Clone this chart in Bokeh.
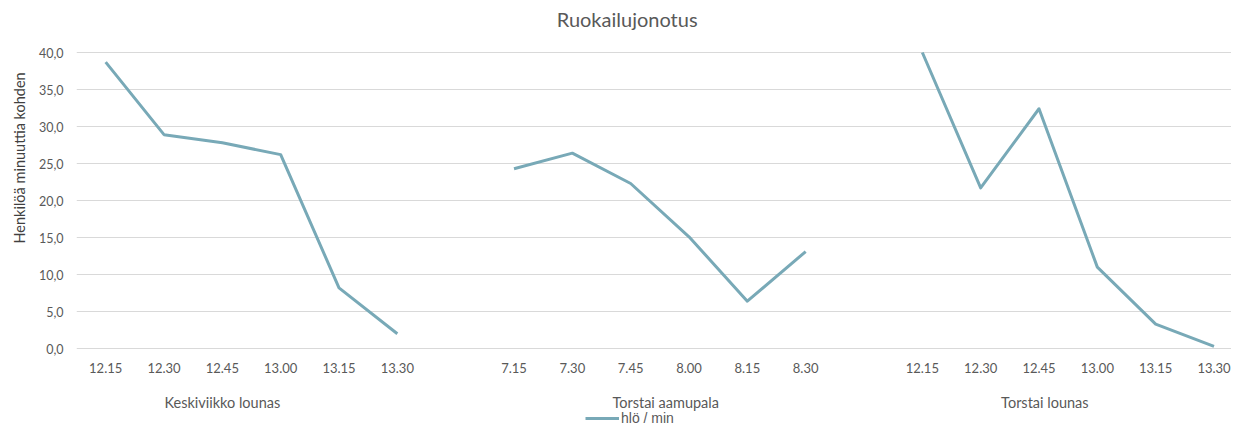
from bokeh.plotting import figure
from bokeh.models import (Range1d, FixedTicker, CustomJSTickFormatter,
                          Title, Legend, LegendItem, ColumnDataSource)
from bokeh.core.properties import value
from bokeh.embed import file_html
from bokeh.resources import INLINE
import numpy as np

# ---- data ----
groups = ["Keskiviikko lounas", "Torstai aamupala", "Torstai lounas"]
times_g1 = ["12.15", "12.30", "12.45", "13.00", "13.15", "13.30"]
times_g2 = ["7.15", "7.30", "7.45", "8.00", "8.15", "8.30"]
times_g3 = ["12.15", "12.30", "12.45", "13.00", "13.15", "13.30"]
values_g1 = [38.7, 28.9, 27.8, 26.2, 8.2, 2.0]
values_g2 = [24.3, 26.4, 22.3, 15.1, 6.4, 13.1]
values_g3 = [40.0, 21.7, 32.4, 11.0, 3.3, 0.3]
y_ticks = [0, 5, 10, 15, 20, 25, 30, 35, 40]
title_text = "Ruokailujonotus"
y_label = "Henkilöä minuuttia kohden"
series_name = "hlö / min"

all_times = [times_g1, times_g2, times_g3]
all_vals = [values_g1, values_g2, values_g3]
xs, ys, tick_pos, tick_lab, group_pos = [], [], [], [], []
pos = 0
for gi, (tl, vl) in enumerate(zip(all_times, all_vals)):
    start = pos
    for t, v in zip(tl, vl):
        xs.append(pos); ys.append(v)
        tick_pos.append(pos); tick_lab.append(t)
        pos += 1
    group_pos.append(start)
    if gi < len(all_times) - 1:
        xs.append(pos); ys.append(np.nan)
        pos += 1
group_offsets = [2.0, 2.6, 2.1]
group_ticks = [g + o for g, o in zip(group_pos, group_offsets)]

LINE = "#78A9B7"
GRID = "#D9D9D9"
TXT = "#595959"
FONT = "Lato"

Y_TOP = 40
# frame covers the full figure height; 0..40 occupies the drawn plot area
p = figure(width=1231, height=426, output_backend="svg", toolbar_location=None,
           x_range=Range1d(-0.5, 19.3), y_range=Range1d(-10.54, 47.03),
           min_border_left=76, min_border_right=0, min_border_top=0, min_border_bottom=0,
           x_axis_type=None, title=None)
p.outline_line_color = None

yax = p.yaxis[0]
yax.ticker = FixedTicker(ticks=y_ticks)
yax.formatter = CustomJSTickFormatter(code="return tick.toFixed(1).replace('.', ',');")
yax.axis_line_color = None
yax.major_tick_line_color = None
yax.minor_tick_line_color = None
yax.major_tick_out = 0
yax.major_tick_in = 0
yax.major_label_standoff = 13
yax.major_label_text_font = FONT
yax.major_label_text_font_size = "12.5px"
yax.major_label_text_color = TXT

ylab = Title(text=y_label, align="left", offset=183,
             text_font=FONT, text_font_size="14.5px", text_font_style="normal",
             text_color="#404040", standoff=15)
p.add_layout(ylab, "left")

p.ygrid.ticker = FixedTicker(ticks=y_ticks)
p.ygrid.grid_line_color = GRID
p.xgrid.grid_line_color = None

# category labels, group labels and title as text
p.text(x=tick_pos, y=[0] * len(tick_pos), text=tick_lab, y_offset=19,
       text_align="center", text_baseline="middle", text_font=value(FONT),
       text_font_size="13px", text_color=TXT)
p.text(x=group_ticks, y=[0] * len(group_ticks), text=groups, y_offset=54,
       text_align="center", text_baseline="middle", text_font=value(FONT),
       text_font_size="14.5px", text_color=TXT)
p.text(x=[8.94], y=[Y_TOP], text=[title_text], y_offset=-34,
       text_align="center", text_baseline="middle", text_font=value(FONT),
       text_font_size="20px", text_color=TXT)

src = ColumnDataSource(dict(x=xs, y=ys))
r = p.line("x", "y", source=src, line_color=LINE, line_width=3, line_join="round")

legend = Legend(items=[LegendItem(label=series_name, renderers=[r])],
                location=(509, 0), orientation="horizontal",
                padding=0, margin=0, glyph_width=34, glyph_height=14, label_height=14,
                label_standoff=2, label_text_font="Liberation Sans",
                label_text_font_size="14px", label_text_color=TXT,
                border_line_color=None, background_fill_alpha=0)
p.add_layout(legend, "center")

open("out.html", "w").write(file_html(p, INLINE))
